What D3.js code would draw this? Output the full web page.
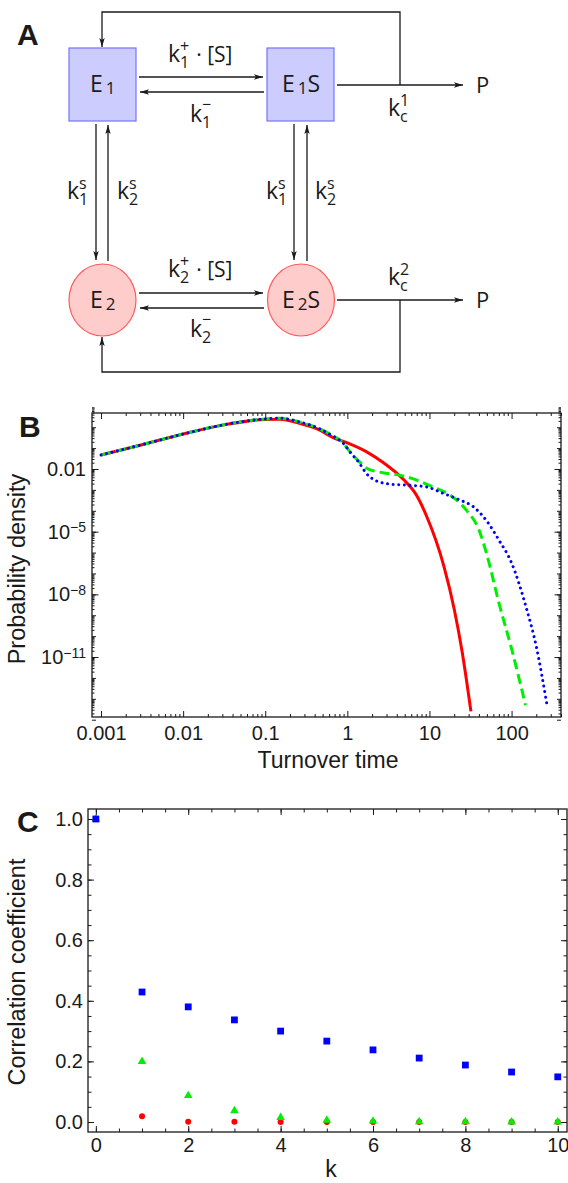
<!DOCTYPE html>
<html>
<head>
<meta charset="utf-8">
<script src="https://cdn.jsdelivr.net/npm/d3@7/dist/d3.min.js"></script>
<style>
body { margin: 0; background: #fff; }
svg { display: block; }
</style>
</head>
<body>
<svg width="568" height="1183"></svg>
<script>
// panel B: turnover time densities (t, density)
var redT   = [0.001, 0.003, 0.01, 0.03, 0.1, 0.15, 0.26, 0.45, 0.67, 1, 1.7, 2.7, 4.8, 6.9, 9.1, 15, 20, 25, 32];
var redP   = [0.047, 0.138, 0.47, 1.26, 2.34, 2.4, 1.55, 0.76, 0.32, 0.178, 0.068, 0.021, 0.0032, 5.8e-4, 6.3e-5, 2.2e-7, 2e-9, 1.8e-11, 2.5e-14];
var greenT = [0.001, 0.003, 0.01, 0.03, 0.1, 0.15, 0.26, 0.45, 0.67, 0.89, 1.07, 1.4, 1.7, 2.7, 4.3, 6.9, 11, 17.6, 28, 40, 50, 70, 100, 148];
var greenP = [0.047, 0.138, 0.47, 1.26, 2.5, 2.7, 1.8, 0.87, 0.39, 0.178, 0.068, 0.0224, 0.0112, 0.0066, 0.0051, 0.003, 0.0014, 5.8e-4, 1.1e-4, 1.25e-5, 8e-7, 4e-9, 2.5e-11, 5e-14];
var blueT  = [0.001, 0.003, 0.01, 0.03, 0.1, 0.15, 0.26, 0.45, 0.67, 0.89, 1.07, 1.4, 1.7, 2.26, 3.3, 5.25, 9.1, 14.6, 23.3, 34, 50, 70, 100, 150, 200, 270];
var blueP  = [0.047, 0.138, 0.47, 1.26, 2.5, 2.7, 1.8, 0.87, 0.37, 0.17, 0.068, 0.019, 0.0062, 0.0027, 0.0019, 0.0017, 0.0014, 6.9e-4, 3.3e-4, 1.6e-4, 3.2e-5, 4e-6, 3.2e-7, 2.5e-9, 3.2e-11, 5e-14];
var bXTicks = [0.001, 0.01, 0.1, 1, 10, 100];
var bYTicks = [1e-2, 1e-5, 1e-8, 1e-11];

// panel C: correlation coefficient vs lag k
var cK     = [0, 1, 2, 3, 4, 5, 6, 7, 8, 9, 10];
var cBlue  = [1.0, 0.429, 0.38, 0.337, 0.30, 0.267, 0.238, 0.211, 0.188, 0.165, 0.149];
var cGreen = [1.0, 0.20, 0.087, 0.037, 0.015, 0.006, 0.003, 0.001, 0.001, 0.0, 0.0];
var cRed   = [1.0, 0.019, 0.001, 0.001, 0.0, 0.0, 0.0, 0.0, 0.0, 0.0, 0.0];
var cXTicks = [0, 2, 4, 6, 8, 10];
var cYTicks = [0, 0.2, 0.4, 0.6, 0.8, 1.0];

var svg = d3.select('svg');
var ink = '#1a1a1a';
var sansA = '"Open Sans", "Noto Sans", sans-serif';
var sansB = '"Liberation Sans", Arial, sans-serif';

//---------------- panel A (reaction scheme) ----------------
var A = svg.append('g').attr('font-family', sansA).attr('fill', ink);

svg.append('defs').append('marker')
	.attr('id', 'head')
	.attr('markerUnits', 'userSpaceOnUse')
	.attr('markerWidth', 10).attr('markerHeight', 6)
	.attr('refX', 9).attr('refY', 3)
	.attr('orient', 'auto')
	.append('path').attr('d', 'M0,0.3 L9,3 L0,5.7 L2,3 z').attr('fill', ink);

function arrow(pts){
	A.append('path')
		.attr('d', d3.line()(pts))
		.attr('fill', 'none')
		.attr('stroke', ink)
		.attr('stroke-width', 1.3)
		.attr('marker-end', 'url(#head)');
}

// boxes (state 1) and circles (state 2)
[[69, 48], [267, 48]].forEach(function(b){
	A.append('rect').attr('x', b[0]).attr('y', b[1]).attr('width', 67).attr('height', 73)
		.attr('fill', '#ccccff').attr('stroke', '#7373ff').attr('stroke-width', 1.2);
});
[[102.5, 300], [301, 300]].forEach(function(c){
	A.append('ellipse').attr('cx', c[0]).attr('cy', c[1]).attr('rx', 33.5).attr('ry', 36)
		.attr('fill', '#ffcccc').attr('stroke', '#ff5a5a').attr('stroke-width', 1.2);
});

// horizontal binding arrows
arrow([[139, 77], [263, 77]]);
arrow([[264, 92], [140, 92]]);
arrow([[139, 293], [263, 293]]);
arrow([[264, 308], [140, 308]]);
// switching arrows
arrow([[96, 124], [96, 260]]);
arrow([[108, 261], [108, 125]]);
arrow([[294, 124], [294, 260]]);
arrow([[307, 261], [307, 125]]);
// product arrows
arrow([[337, 85], [463, 85]]);
arrow([[337, 300], [463, 300]]);
// recycle loops
arrow([[400, 85], [400, 12], [102, 12], [102, 47]]);
arrow([[400, 300], [400, 372], [102, 372], [102, 337]]);

// k with subscript and superscript stacked, all in one text element
function kLab(x, y, sub, sup, tail){
	var t = A.append('text').attr('x', x).attr('y', y).attr('font-size', 23);
	t.append('tspan').text('k');
	var s = t.append('tspan').attr('font-size', 16).attr('dy', 6).text(sub);
	var w = s.node().getComputedTextLength();
	var up = sup == '\u2212' ? 18 : 16;
	t.append('tspan').attr('font-size', 16).attr('dx', -w).attr('dy', -up).text(sup);
	if (tail) t.append('tspan').attr('font-size', 21).attr('dx', 7).attr('dy', up - 6).text(tail);
}

// species labels
function species(x, y, n, s){
	var t = A.append('text').attr('x', x).attr('y', y).attr('font-size', 23);
	t.append('tspan').text('E');
	t.append('tspan').attr('font-size', 17).attr('dx', 3).attr('dy', 2).text(n);
	if (s) t.append('tspan').attr('dy', -2).text('S');
}
species(90, 92, '1');
species(282, 92, '1', true);
species(90, 308, '2');
species(282, 308, '2', true);

kLab(168, 62, '1', '+', '\u00b7 [S]');
kLab(190, 122, '1', '\u2212');
kLab(168, 277, '2', '+', '\u00b7 [S]');
kLab(190, 337, '2', '\u2212');
kLab(388, 116, 'c', '1');
kLab(388, 285, 'c', '2');
kLab(67, 199, '1', 's');
kLab(117, 199, '2', 's');
kLab(266, 199, '1', 's');
kLab(315, 199, '2', 's');
A.append('text').attr('x', 476).attr('y', 93).attr('font-size', 22).text('P');
A.append('text').attr('x', 476).attr('y', 308).attr('font-size', 22).text('P');

svg.append('text').attr('x', 17).attr('y', 45)
	.attr('font-family', sansB).attr('font-weight', 'bold').attr('font-size', 30)
	.attr('fill', ink).text('A');

//---------------- panel B (log-log densities) ----------------
var bL = 92, bR = 561, bT = 413, bB = 717;
var xB = d3.scaleLog().domain([Math.pow(10, -3.11), 400]).range([bL, bR]);
var yB = d3.scaleLog().domain([Math.pow(10, -13.87), Math.pow(10, 0.68)]).range([bB, bT]);

var B = svg.append('g').attr('font-family', sansB).attr('fill', ink);

var xMinor = [], yMinor = [], yDec = [];
for (var e = -3; e <= 2; e++) for (var m = 2; m <= 9; m++) xMinor.push(m * Math.pow(10, e));
for (var e2 = -14; e2 <= 0; e2++){
	yDec.push(Math.pow(10, e2));
	for (var m2 = 2; m2 <= 9; m2++) yMinor.push(m2 * Math.pow(10, e2));
}

function tickSet(g, axis, vals, len){
	g.call(axis.tickValues(vals).tickSize(len).tickSizeOuter(0).tickFormat(''));
	g.select('.domain').remove();
	g.selectAll('line').attr('stroke', ink).attr('stroke-width', 1);
}
function frameTicks(G, xs, ys, L, R, T, Bt, xSets, ySets){
	xSets.forEach(function(s){
		tickSet(G.append('g').attr('transform', 'translate(0,' + Bt + ')'), d3.axisBottom(xs), s[0], -s[1]);
		tickSet(G.append('g').attr('transform', 'translate(0,' + T + ')'), d3.axisTop(xs), s[0], -s[1]);
	});
	ySets.forEach(function(s){
		tickSet(G.append('g').attr('transform', 'translate(' + L + ',0)'), d3.axisLeft(ys), s[0], -s[1]);
		tickSet(G.append('g').attr('transform', 'translate(' + R + ',0)'), d3.axisRight(ys), s[0], -s[1]);
	});
	G.append('rect').attr('x', L).attr('y', T).attr('width', R - L).attr('height', Bt - T)
		.attr('fill', 'none').attr('stroke', ink).attr('stroke-width', 1.3);
}

var clipB = svg.select('defs').append('clipPath').attr('id', 'clipB');
clipB.append('rect').attr('x', bL).attr('y', bT).attr('width', bR - bL).attr('height', bB - bT);

var lineB = d3.line()
	.x(function(d){ return xB(d[0]); })
	.y(function(d){ return yB(d[1]); })
	.curve(d3.curveMonotoneX);

var curves = B.append('g').attr('clip-path', 'url(#clipB)');
curves.append('path').datum(d3.zip(redT, redP)).attr('d', lineB)
	.attr('fill', 'none').attr('stroke', '#ff0000').attr('stroke-width', 3);
curves.append('path').datum(d3.zip(greenT, greenP)).attr('d', lineB)
	.attr('fill', 'none').attr('stroke', '#00ee00').attr('stroke-width', 3)
	.attr('stroke-dasharray', '10 5');
curves.append('path').datum(d3.zip(blueT, blueP)).attr('d', lineB)
	.attr('fill', 'none').attr('stroke', '#0000ff').attr('stroke-width', 3)
	.attr('stroke-linecap', 'round').attr('stroke-dasharray', '0.01 5.6');

frameTicks(B, xB, yB, bL, bR, bT, bB,
	[[xMinor, 3], [bXTicks, 6]],
	[[yMinor, 2.5], [yDec, 4], [bYTicks, 6.5]]);

// tick labels
var bxAx = B.append('g').attr('transform', 'translate(0,' + bB + ')')
	.call(d3.axisBottom(xB).tickValues(bXTicks).tickSize(0).tickPadding(9)
		.tickFormat(function(d){ return d >= 1 ? d3.format('d')(d) : String(d); }));
bxAx.select('.domain').remove();
bxAx.selectAll('text').attr('font-size', 20).attr('fill', ink).attr('font-family', sansB);

var byAx = B.append('g').attr('transform', 'translate(' + bL + ',0)')
	.call(d3.axisLeft(yB).tickValues(bYTicks).tickSize(0).tickPadding(6).tickFormat(''));
byAx.select('.domain').remove();
byAx.selectAll('text').attr('font-size', 20).attr('fill', ink).attr('font-family', sansB)
	.each(function(d){
		var t = d3.select(this);
		var ex = Math.round(Math.log10(d));
		if (ex === -2) { t.text('0.01'); return; }
		t.append('tspan').text('10');
		t.append('tspan').attr('dy', '-0.45em').attr('font-size', 14).text('\u2212' + (-ex));
	});

B.append('text').attr('x', 328).attr('y', 768).attr('text-anchor', 'middle')
	.attr('font-size', 23).text('Turnover time');
B.append('text').attr('transform', 'translate(25,569) rotate(-90)').attr('text-anchor', 'middle')
	.attr('font-size', 23.5).text('Probability density');
B.append('text').attr('x', 19).attr('y', 437).attr('font-weight', 'bold').attr('font-size', 30).text('B');

//---------------- panel C (correlation coefficient) ----------------
var cL = 88, cR = 567, cT = 809, cB = 1132;
var xC = d3.scaleLinear().domain([-0.17, 10.2]).range([cL, cR]);
var yC = d3.scaleLinear().domain([-0.033, 1.033]).range([cB, cT]);
var C = svg.append('g').attr('font-family', sansB).attr('fill', ink);

frameTicks(C, xC, yC, cL, cR, cT, cB,
	[[d3.range(0, 10.01, 0.5), 3.5], [cXTicks, 6]],
	[[d3.range(0, 1.001, 0.05), 3.5], [cYTicks, 6]]);

var cxAx = C.append('g').attr('transform', 'translate(0,' + cB + ')')
	.call(d3.axisBottom(xC).tickValues(cXTicks).tickSize(0).tickPadding(6).tickFormat(d3.format('d')));
cxAx.select('.domain').remove();
cxAx.selectAll('text').attr('font-size', 20).attr('fill', ink).attr('font-family', sansB);

var cyAx = C.append('g').attr('transform', 'translate(' + cL + ',0)')
	.call(d3.axisLeft(yC).tickValues(cYTicks).tickSize(0).tickPadding(5).tickFormat(d3.format('.1f')));
cyAx.select('.domain').remove();
cyAx.selectAll('text').attr('font-size', 20).attr('fill', ink).attr('font-family', sansB);

var pts = C.append('g');
pts.selectAll('circle').data(d3.zip(cK, cRed)).enter().append('circle')
	.attr('cx', function(d){ return xC(d[0]); })
	.attr('cy', function(d){ return yC(d[1]); })
	.attr('r', 3).attr('fill', '#ff0000');
pts.selectAll('path.tri').data(d3.zip(cK, cGreen)).enter().append('path').attr('class', 'tri')
	.attr('d', d3.symbol().type(d3.symbolTriangle).size(32))
	.attr('transform', function(d){ return 'translate(' + xC(d[0]) + ',' + yC(d[1]) + ')'; })
	.attr('fill', '#00ee00');
pts.selectAll('rect.sq').data(d3.zip(cK, cBlue)).enter().append('rect').attr('class', 'sq')
	.attr('x', function(d){ return xC(d[0]) - 3.4; })
	.attr('y', function(d){ return yC(d[1]) - 3.4; })
	.attr('width', 6.8).attr('height', 6.8).attr('fill', '#0000ff');

C.append('text').attr('x', 331).attr('y', 1177).attr('text-anchor', 'middle')
	.attr('font-size', 23).text('k');
C.append('text').attr('transform', 'translate(25,972) rotate(-90)').attr('text-anchor', 'middle')
	.attr('font-size', 23.5).text('Correlation coefficient');
C.append('text').attr('x', 17).attr('y', 832).attr('font-weight', 'bold').attr('font-size', 30).text('C');
</script>
</body>
</html>
